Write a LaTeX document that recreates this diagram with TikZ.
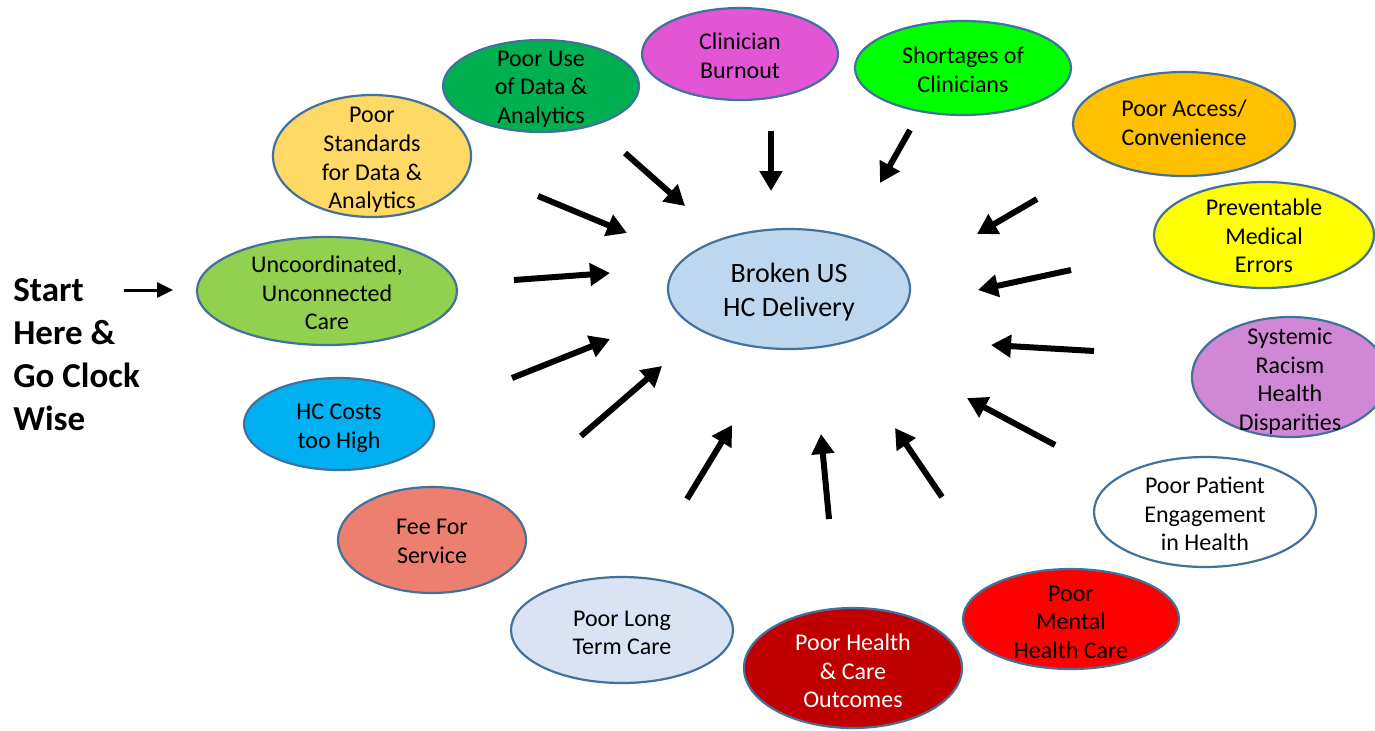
\documentclass[tikz,border=0pt]{standalone}
\usepackage{fontspec}
\setmainfont{Carlito}
\usetikzlibrary{shapes.geometric,arrows.meta}
\definecolor{bord}{HTML}{41719C}
\definecolor{cCenter}{HTML}{BDD7EE}
\definecolor{cStd}{HTML}{FFD966}
\definecolor{cUse}{HTML}{00B050}
\definecolor{cBurn}{HTML}{E256D6}
\definecolor{cShort}{HTML}{00FF00}
\definecolor{cAccess}{HTML}{FFC000}
\definecolor{cPrev}{HTML}{FFFF00}
\definecolor{cSys}{HTML}{D088D6}
\definecolor{cPat}{HTML}{FFFFFF}
\definecolor{cMent}{HTML}{FF0000}
\definecolor{cOut}{HTML}{C00000}
\definecolor{cLtc}{HTML}{DAE3F3}
\definecolor{cFee}{HTML}{EC7F6F}
\definecolor{cCost}{HTML}{00B0F0}
\definecolor{cUnc}{HTML}{92D050}
\tikzset{
  bub/.style n args={2}{ellipse, draw=bord, line width=1.1pt, inner sep=0pt,
    minimum width=#1, minimum height=#2},
  txt/.style={align=center, inner sep=0pt, font=\fontsize{12}{14.3}\selectfont},
  bigtxt/.style={align=center, inner sep=0pt, font=\fontsize{14}{17}\selectfont},
  arr/.style={line width=3pt, -{Triangle[length=10pt,width=11pt]}},
  smallarr/.style={line width=1.5pt, -{Triangle[length=8pt,width=7.5pt]}}
}
\begin{document}
\begin{tikzpicture}[x=0.5pt,y=-0.5pt]
\useasboundingbox (0,0) rectangle (1375,730);
\clip (0,0) rectangle (1375,730);
% ellipses
\node[bub={121pt}{60pt}, fill=cCenter] (hc) at (789,289) {};
\node[bub={99pt}{61pt}, fill=cStd] (std) at (372,156) {};
\node[bub={98pt}{46pt}, fill=cUse] (use) at (541,86) {};
\node[bub={98pt}{46pt}, fill=cBurn] (burn) at (740,54) {};
\node[bub={108pt}{47pt}, fill=cShort] (short) at (963,68) {};
\node[bub={111pt}{52pt}, fill=cAccess] (access) at (1184,124) {};
\node[bub={110pt}{53pt}, fill=cPrev] (prev) at (1264,235) {};
\node[bub={98pt}{60pt}, fill=cSys] (sys) at (1290,377) {};
\node[bub={111pt}{55pt}, fill=cPat] (pat) at (1205,512) {};
\node[bub={108pt}{50pt}, fill=cMent] (ment) at (1071,619) {};
\node[bub={109pt}{60pt}, fill=cOut] (out) at (853,668) {};
\node[bub={111pt}{53pt}, fill=cLtc] (ltc) at (622,630) {};
\node[bub={94pt}{53pt}, fill=cFee] (fee) at (432,540) {};
\node[bub={95pt}{46pt}, fill=cCost] (cost) at (339,424) {};
\node[bub={130pt}{54pt}, fill=cUnc] (unc) at (327,291) {};
% texts
\node[bigtxt] (hc-t) at (789,292) {Broken US\\HC Delivery};
\node[txt] (std-t) at (372,160) {Poor\\Standards\\for Data \&\\Analytics};
\node[txt] (use-t) at (541,89) {Poor Use\\of Data \&\\Analytics};
\node[txt] (burn-t) at (740,56) {Clinician\\Burnout};
\node[txt] (short-t) at (963,70) {Shortages of\\Clinicians};
\node[txt] (access-t) at (1184,123) {Poor Access/\\Convenience};
\node[txt] (prev-t) at (1264,236) {Preventable\\Medical\\Errors};
\node[txt] (sys-t) at (1290,381) {Systemic\\Racism\\Health\\Disparities};
\node[txt] (pat-t) at (1205,514) {Poor Patient\\Engagement\\in Health};
\node[txt] (ment-t) at (1071,622) {Poor\\Mental\\Health Care};
\node[txt, text=white] (out-t) at (853,671) {Poor Health\\\& Care\\Outcomes};
\node[txt] (ltc-t) at (622,633) {Poor Long\\Term Care};
\node[txt] (fee-t) at (432,541.5) {Fee For\\Service};
\node[txt] (cost-t) at (339,428) {HC Costs\\too High};
\node[txt] (unc-t) at (327,293) {Uncoordinated,\\Unconnected\\Care};
% start text
\node[anchor=north west, align=left, inner sep=0pt,
  font=\fontsize{17.5}{21.5}\selectfont\bfseries] (start) at (13,278)
  {Start\\Here \&\\Go Clock\\Wise};
% arrow end points
\coordinate (s0) at (124,290); \coordinate (e0) at (173,290);
\coordinate (s1) at (538,196); \coordinate (e1) at (627,233);
\coordinate (s2) at (625,153); \coordinate (e2) at (685,206);
\coordinate (s3) at (771,131); \coordinate (e3) at (771,191);
\coordinate (s4) at (910,130); \coordinate (e4) at (880,183);
\coordinate (s5) at (1037,199); \coordinate (e5) at (977,234);
\coordinate (s6) at (1071,270); \coordinate (e6) at (978,290);
\coordinate (s7) at (1094,351); \coordinate (e7) at (991,345);
\coordinate (s8) at (1055,445); \coordinate (e8) at (967,398);
\coordinate (s9) at (942,497); \coordinate (e9) at (895,428);
\coordinate (s10) at (829,519); \coordinate (e10) at (821,434);
\coordinate (s11) at (687,499); \coordinate (e11) at (732,425);
\coordinate (s12) at (581,436); \coordinate (e12) at (662,366);
\coordinate (s13) at (512,378); \coordinate (e13) at (610,339);
\coordinate (s14) at (514,280); \coordinate (e14) at (610,273);
% arrows
\draw[smallarr] (s0) -- (e0);
\foreach \i in {1,...,14} {\draw[arr] (s\i) -- (e\i);}
\end{tikzpicture}
\end{document}
